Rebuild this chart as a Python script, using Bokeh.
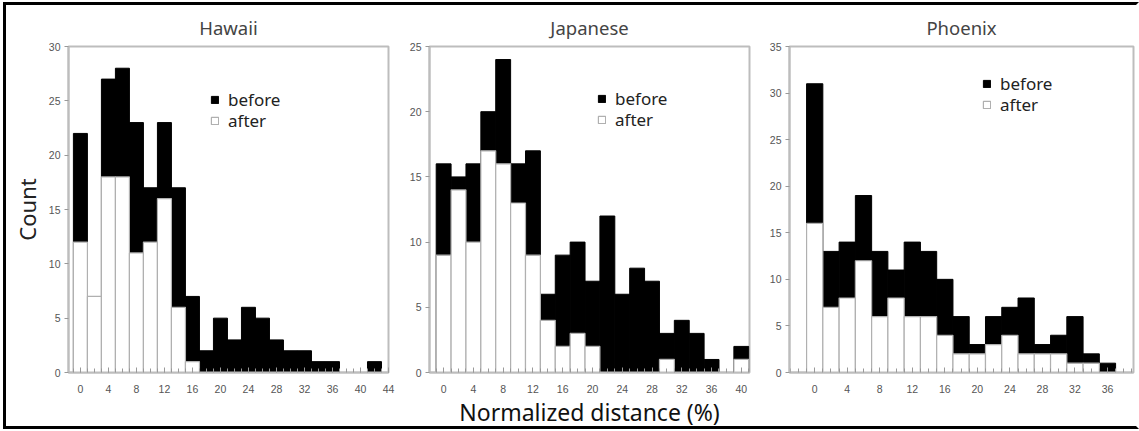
from bokeh.plotting import figure
from bokeh.layouts import row
from bokeh.models import Legend, LegendItem, FixedTicker, Range1d, ColumnDataSource, Title
from bokeh.embed import file_html
from bokeh.resources import INLINE

# ---------------- data ----------------
titles = ["Hawaii", "Japanese", "Phoenix"]

bins_hawaii = [0, 2, 4, 6, 8, 10, 12, 14, 16, 18, 20, 22, 24, 26, 28, 30, 32, 34, 36, 38, 40, 42]
before_hawaii = [22, 6, 27, 28, 23, 17, 23, 17, 7, 2, 5, 3, 6, 5, 3, 2, 2, 1, 1, 0, 0, 1]
after_hawaii = [12, 7, 18, 18, 11, 12, 16, 6, 1, 0, 0, 0, 0, 0, 0, 0, 0, 0, 0, 0, 0, 0]

bins_japanese = [0, 2, 4, 6, 8, 10, 12, 14, 16, 18, 20, 22, 24, 26, 28, 30, 32, 34, 36, 38, 40]
before_japanese = [16, 15, 16, 20, 24, 16, 17, 6, 9, 10, 7, 12, 6, 8, 7, 3, 4, 3, 1, 0, 2]
after_japanese = [9, 14, 10, 17, 16, 13, 9, 4, 2, 3, 2, 0, 0, 0, 0, 1, 0, 0, 0, 0, 1]

bins_phoenix = [0, 2, 4, 6, 8, 10, 12, 14, 16, 18, 20, 22, 24, 26, 28, 30, 32, 34, 36]
before_phoenix = [31, 13, 14, 19, 13, 11, 14, 13, 10, 6, 3, 6, 7, 8, 3, 4, 6, 2, 1]
after_phoenix = [16, 7, 8, 12, 6, 8, 6, 6, 4, 2, 2, 3, 4, 2, 2, 2, 1, 1, 0]

xticks_hawaii = [0, 4, 8, 12, 16, 20, 24, 28, 32, 36, 40, 44]
xticks_japanese = [0, 4, 8, 12, 16, 20, 24, 28, 32, 36, 40]
xticks_phoenix = [0, 4, 8, 12, 16, 20, 24, 28, 32, 36]
yticks_hawaii = [0, 5, 10, 15, 20, 25, 30]
yticks_japanese = [0, 5, 10, 15, 20, 25]
yticks_phoenix = [0, 5, 10, 15, 20, 25, 30, 35]

series_labels = ["before", "after"]
x_label = "Normalized distance (%)"
y_label = "Count"

# ---------------- styling ----------------
FONT = "Noto Sans"
TICK_FONT = "Liberation Sans"
GRAY = "#bdbdbd"


def one_legend(label, renderer, xy):
    return Legend(items=[LegendItem(label=label, renderers=[renderer])],
                  location=xy, orientation="vertical",
                  glyph_width=9, glyph_height=9, label_standoff=9,
                  label_text_font=FONT, label_text_font_size="17px",
                  label_text_color="#222222", label_height=17, spacing=0,
                  padding=0, margin=0, border_line_alpha=0, background_fill_alpha=0)


def make_panel(title, bins, before, after, xticks, yticks, xr, yr, width, bl, br,
               leg_before, leg_after, ylab=None):
    p = figure(width=width, height=421, output_backend="svg", toolbar_location=None,
               x_range=Range1d(*xr), y_range=Range1d(*yr),
               min_border_left=bl, min_border_right=br, min_border_top=41, min_border_bottom=54)
    p.title.text = title
    p.title.align = "center"
    p.title.text_font = FONT
    p.title.text_font_size = "18.5px"
    p.title.text_font_style = "normal"
    p.title.text_color = "#444444"
    p.title.standoff = 13

    src = ColumnDataSource(dict(x=bins, before=before, after=after))
    rb = p.vbar(x="x", top="before", bottom=0, width=2, source=src,
                fill_color="black", line_color="black", line_width=1)
    ra = p.vbar(x="x", top="after", bottom=0, width=2, source=src,
                fill_color="white", line_color="#b0b0b0", line_width=1.2)

    p.grid.visible = False
    p.outline_line_color = GRAY
    p.outline_line_width = 2
    p.background_fill_color = "white"
    p.border_fill_color = "white"

    for ax in (p.xaxis[0], p.yaxis[0]):
        ax.axis_line_color = GRAY
        ax.axis_line_width = 2
        ax.major_tick_line_color = "#999999"
        ax.minor_tick_line_color = "#999999"
        ax.major_label_text_font = TICK_FONT
        ax.major_label_text_font_size = "10.5px"
        ax.major_label_text_color = "#555555"

    p.xaxis.ticker = FixedTicker(ticks=xticks, minor_ticks=list(range(int(xr[0]), int(xr[1]) + 1)))
    p.xaxis.major_tick_in = 5
    p.xaxis.major_tick_out = 0
    p.xaxis.minor_tick_in = 4
    p.xaxis.minor_tick_out = 0
    p.xaxis.major_label_standoff = 12

    p.yaxis.ticker = FixedTicker(ticks=yticks)
    p.yaxis.major_tick_in = 0
    p.yaxis.major_tick_out = 4
    p.yaxis.minor_tick_line_color = None
    p.yaxis.major_label_standoff = 4

    if ylab:
        p.yaxis.axis_label = ylab
        p.yaxis.axis_label_text_font = FONT
        p.yaxis.axis_label_text_font_size = "22px"
        p.yaxis.axis_label_text_font_style = "normal"
        p.yaxis.axis_label_text_color = "#222222"
        p.yaxis.axis_label_standoff = 4

    p.add_layout(one_legend(series_labels[0], rb, leg_before), "center")
    p.add_layout(one_legend(series_labels[1], ra, leg_after), "center")
    return p


p1 = make_panel(titles[0], bins_hawaii, before_hawaii, after_hawaii, xticks_hawaii, yticks_hawaii,
                (-1.7, 44), (0, 30), 389, 62, 7, (142, 261), (142, 240), ylab=y_label)
p2 = make_panel(titles[1], bins_japanese, before_japanese, after_japanese, xticks_japanese, yticks_japanese,
                (-1.9, 41.1), (0, 25), 365, 34, 11, (168, 262), (168, 241))
p3 = make_panel(titles[2], bins_phoenix, before_phoenix, after_phoenix, xticks_phoenix, yticks_phoenix,
                (-3.1, 39.2), (0, 35), 376, 29, 3, (193, 277), (193, 256))

# shared x-axis title, placed below the middle panel
p2.add_layout(Title(text=x_label, align="center", offset=8, standoff=-4,
                    text_font=FONT, text_font_size="23px", text_font_style="normal",
                    text_color="#111111", text_line_height=1.0), "below")

layout = row(p1, p2, p3, styles={"border-left": "3px solid black", "border-top": "3px solid black",
                                 "border-bottom": "3px solid black", "border-right": "3px solid white",
                                 "margin-left": "3px", "margin-top": "2px",
                                 "background-color": "white"})

open("out.html", "w").write(file_html(layout, INLINE))
